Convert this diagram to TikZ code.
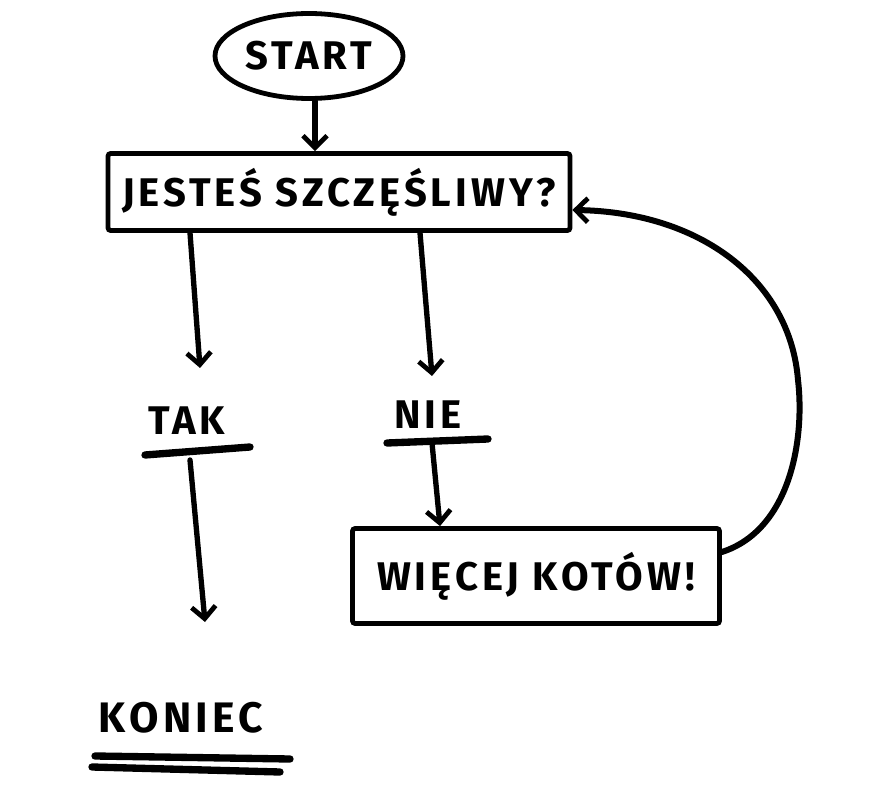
\documentclass[tikz,border=0pt]{standalone}
\usepackage{fontspec}
\setmainfont{Fira Sans}
\newfontfamily\handfont[LetterSpace=10]{Fira Sans}
\usetikzlibrary{shapes.geometric,arrows.meta}
\tikzset{
  hand/.style={font=\handfont\fontsize{30}{32}\selectfont\bfseries},
  boxline/.style={draw=black,line width=3.6pt,rounded corners=2pt},
  flow/.style={draw=black,line width=4pt,line cap=round,-{Straight Barb[length=9pt,width=18pt,line width=3.6pt]}},
  bar/.style={draw=black,line width=5.5pt,line cap=round},
}
\begin{document}
\begin{tikzpicture}[x=0.75pt,y=-0.75pt]
\useasboundingbox[fill=white] (0,0) rectangle (889,798);
\node[boxline,ellipse,hand,minimum width={188*0.75pt},minimum height={85*0.75pt},inner sep=0pt] (start) at (309,56) {START};
\node[boxline,rectangle,hand,minimum width={462*0.75pt},minimum height={77*0.75pt},inner sep=0pt] (q) at (339,192) {JESTEŚ SZCZĘŚLIWY?};
\node[hand] (tak) at (187,421) {TAK};
\node[hand] (nie) at (428,415) {NIE};
\node[boxline,rectangle,hand,minimum width={367*0.75pt},minimum height={95*0.75pt},inner sep=0pt] (more) at (536,576) {WIĘCEJ KOTÓW!};
\node[hand,font=\handfont\fontsize{32}{34}\selectfont\bfseries] (end) at (181,718) {KONIEC};
% underlines
\coordinate (takL) at (145,455); \coordinate (takR) at (250,447);
\coordinate (nieL) at (387,443); \coordinate (nieR) at (488,439);
\coordinate (endAL) at (95,756); \coordinate (endAR) at (290,759);
\coordinate (endBL) at (92,767); \coordinate (endBR) at (280,772);
\draw[bar] (takL) -- (takR);
\draw[bar] (nieL) -- (nieR);
\draw[bar] (endAL) -- (endAR);
\draw[bar] (endBL) -- (endBR);
% arrow end points
\coordinate (takTip) at (200,368);
\coordinate (nieTip) at (432,376);
\coordinate (takTop) at (190,460);
\coordinate (takEnd) at (205,622);
\coordinate (nieTop) at (432,443);
\draw[flow] (start.south -| 315,0) -- (q.north -| 315,0);
\draw[flow] (q.south -| 190,0) -- (takTip);
\draw[flow] (q.south -| 420,0) -- (nieTip);
\draw[flow] (takTop) -- (takEnd);
\draw[flow] (nieTop) -- (more.north -| 440,0);
\draw[flow,line width=4.5pt] (more.east |- 0,552) .. controls (790,530) and (805,440) .. (798,380) .. controls (790,280) and (700,212) .. (q.east |- 0,210);
\end{tikzpicture}
\end{document}
